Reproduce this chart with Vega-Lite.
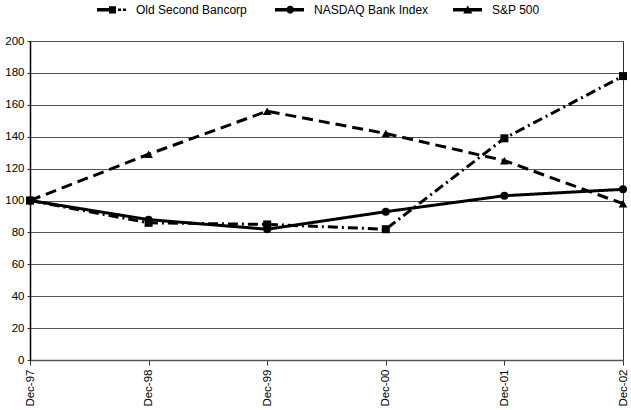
{
  "$schema": "https://vega.github.io/schema/vega-lite/v6.json",
  "width": 593,
  "height": 319,
  "autosize": {"type": "none"},
  "padding": {"left": 30, "top": 41, "right": 8, "bottom": 50},
  "config": {
    "font": "Liberation Sans",
    "view": {"stroke": "#333", "strokeWidth": 1},
    "background": "white"
  },
  "data": {
    "values": [
      {"date": "Dec-97", "series": "Old Second Bancorp", "value": 100},
      {"date": "Dec-98", "series": "Old Second Bancorp", "value": 86},
      {"date": "Dec-99", "series": "Old Second Bancorp", "value": 85},
      {"date": "Dec-00", "series": "Old Second Bancorp", "value": 82},
      {"date": "Dec-01", "series": "Old Second Bancorp", "value": 139},
      {"date": "Dec-02", "series": "Old Second Bancorp", "value": 178},
      {"date": "Dec-97", "series": "NASDAQ Bank Index", "value": 100},
      {"date": "Dec-98", "series": "NASDAQ Bank Index", "value": 88},
      {"date": "Dec-99", "series": "NASDAQ Bank Index", "value": 82},
      {"date": "Dec-00", "series": "NASDAQ Bank Index", "value": 93},
      {"date": "Dec-01", "series": "NASDAQ Bank Index", "value": 103},
      {"date": "Dec-02", "series": "NASDAQ Bank Index", "value": 107},
      {"date": "Dec-97", "series": "S&P 500", "value": 100},
      {"date": "Dec-98", "series": "S&P 500", "value": 129},
      {"date": "Dec-99", "series": "S&P 500", "value": 156},
      {"date": "Dec-00", "series": "S&P 500", "value": 142},
      {"date": "Dec-01", "series": "S&P 500", "value": 125},
      {"date": "Dec-02", "series": "S&P 500", "value": 98}
    ]
  },
  "encoding": {
    "x": {
      "field": "date",
      "type": "ordinal",
      "scale": {"type": "point", "padding": 0, "domain": ["Dec-97", "Dec-98", "Dec-99", "Dec-00", "Dec-01", "Dec-02"]},
      "axis": {
        "title": null,
        "labelAngle": -90,
        "labelFontSize": 11.5,
        "labelColor": "black",
        "labelPadding": 4,
        "domainColor": "#555",
        "domainWidth": 1.5,
        "tickColor": "#333",
        "tickSize": 5,
        "grid": false
      }
    },
    "y": {
      "field": "value",
      "type": "quantitative",
      "scale": {"domain": [0, 200], "nice": false},
      "axis": {
        "title": null,
        "values": [0, 20, 40, 60, 80, 100, 120, 140, 160, 180, 200],
        "labelFontSize": 11.5,
        "labelColor": "black",
        "labelPadding": 3,
        "domainColor": "black",
        "domainWidth": 1.5,
        "tickColor": "#333",
        "tickSize": 3,
        "grid": true,
        "gridColor": "#555",
        "gridWidth": 1
      }
    }
  },
  "layer": [
    {
      "mark": {"type": "point", "filled": true, "color": "black", "opacity": 0.001},
      "encoding": {
        "shape": {
          "field": "series",
          "type": "nominal",
          "scale": {
            "domain": ["Old Second Bancorp", "NASDAQ Bank Index", "S&P 500"],
            "range": [
              "M-1,-0.12H-0.17V0.12H-1Z M-0.17,-0.25H0.31V0.25H-0.17Z M0.45,-0.08H0.66V0.08H0.45Z M0.79,-0.08H1V0.08H0.79Z",
              "M-1,-0.12H1V0.12H-1Z M-0.22,0A0.27,0.27 0 1,1 0.32,0A0.27,0.27 0 1,1 -0.22,0Z",
              "M-1,-0.12H1V0.12H-1Z M-0.3,0.25L0.02,-0.3L0.34,0.25Z"
            ]
          },
          "legend": {
            "title": null,
            "orient": "none",
            "direction": "horizontal",
            "legendX": 67,
            "legendY": -46,
            "symbolSize": 841,
            "labelFontSize": 12,
            "labelColor": "black",
            "labelOffset": 10,
            "columnPadding": 24,
            "gridAlign": "all",
            "symbolOpacity": 1,
            "symbolFillColor": "black",
            "symbolStrokeWidth": 0,
            "encode": {
              "symbols": {"update": {"opacity": {"value": 1}, "fill": {"value": "black"}, "fillOpacity": {"value": 1}, "strokeWidth": {"value": 0}}}
            }
          }
        }
      }
    },
    {
      "mark": {"type": "line", "color": "black", "strokeWidth": 3},
      "encoding": {
        "strokeDash": {
          "field": "series",
          "type": "nominal",
          "scale": {"domain": ["Old Second Bancorp", "NASDAQ Bank Index", "S&P 500"], "range": [[10, 4, 2, 4], [1, 0], [11, 6]]},
          "legend": null
        }
      }
    },
    {
      "transform": [{"filter": "datum.series === 'Old Second Bancorp'"}],
      "mark": {"type": "point", "shape": "square", "filled": true, "color": "black", "opacity": 1, "size": 64}
    },
    {
      "transform": [{"filter": "datum.series === 'NASDAQ Bank Index'"}],
      "mark": {"type": "point", "shape": "circle", "filled": true, "color": "black", "opacity": 1, "size": 64}
    },
    {
      "transform": [{"filter": "datum.series === 'S&P 500'"}],
      "mark": {"type": "point", "shape": "triangle-up", "filled": true, "color": "black", "opacity": 1, "size": 75}
    }
  ]
}
